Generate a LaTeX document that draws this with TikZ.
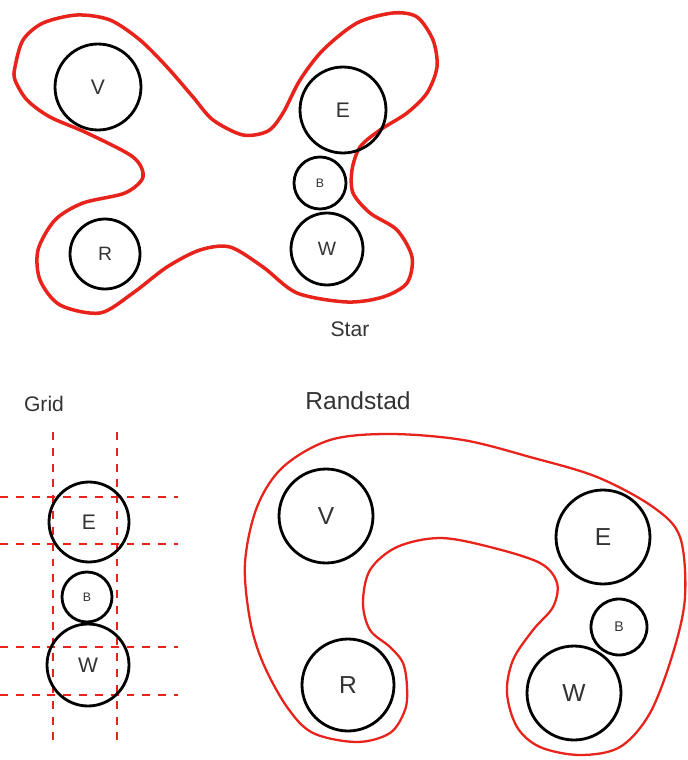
\documentclass[tikz,border=0pt]{standalone}
\usepackage{fontspec}
\setmainfont{Liberation Sans}
\usepackage{xcolor}
\usepackage{tikz}
\definecolor{outline}{HTML}{E8231B}
\definecolor{txt}{HTML}{333333}
\tikzstyle{town} = [circle, draw, line width=1.6pt, inner sep=0pt, text=txt]
\tikzstyle{zone} = [outline, line width=2pt]
\tikzstyle{gridline} = [outline, line width=1.2pt, dash pattern=on 4.5pt off 4.5pt]
\tikzstyle{caption} = [text=txt, font=\fontsize{12}{14}\selectfont]

\begin{document}
\begin{tikzpicture}[x=0.02cm, y=-0.02cm]
\useasboundingbox (0,0) rectangle (687,760);
% star
\draw [zone] plot [smooth cycle, tension=0.5] coordinates {
    (15,67) (23,40) (43,23) (77,15) (110,20) (140,40) (167,67)
    (193,97) (213,120) (243,135) (268,131) (283,113) (300,80)
    (323,50) (357,23) (393,13) (417,17) (433,40) (437,67) (427,93)
    (407,113) (380,130) (360,147) (352,170) (353,193) (370,213)
    (397,230) (412,257) (407,283) (383,297) (347,302) (297,293)
    (263,267) (230,247) (200,250) (167,267) (133,293) (100,313)
    (60,305) (40,280) (38,250) (55,220) (83,203) (125,193)
    (143,177) (133,157) (87,133) (50,117) (27,100) (15,80)};
\node [town, minimum size=1.72cm, font=\fontsize{12}{14}\selectfont] (sv) at (98,87) {V};
\node [town, minimum size=1.72cm, font=\fontsize{12}{14}\selectfont] (se) at (343,110) {E};
\node [town, minimum size=1.04cm, font=\fontsize{7}{8}\selectfont] (sb) at (320,183) {B};
\node [town, minimum size=1.44cm, font=\fontsize{11}{13}\selectfont] (sw) at (327,249) {W};
\node [town, minimum size=1.40cm, font=\fontsize{11}{13}\selectfont] (sr) at (105,254) {R};
\node [caption] (star) at (350,329) {Star};
% grid
\node [caption] (grid) at (44,404) {Grid};
\foreach \x in {53, 117}
    \draw [gridline] (\x,432) -- (\x,748);
\foreach \y in {497, 544, 647, 695}
    \draw [gridline] (0,\y) -- (178,\y);
\node [town, minimum size=1.60cm, font=\fontsize{12}{14}\selectfont] (ge) at (89,522) {E};
\node [town, minimum size=1.00cm, font=\fontsize{7}{8}\selectfont] (gb) at (87,597) {B};
\node [town, minimum size=1.64cm, font=\fontsize{12}{14}\selectfont] (gw) at (88,665) {W};
% randstad
\node [caption, font=\fontsize{14}{16}\selectfont] (rand) at (358,401) {Randstad};
\draw [zone, line width=1.3pt] plot [smooth cycle, tension=0.55] coordinates {
    (390,434) (330,440) (283,467) (257,507) (245,563) (250,620)
    (263,663) (287,707) (313,733) (357,742) (390,733) (405,710)
    (407,687) (403,663) (390,647) (370,630) (363,603) (370,570)
    (397,547) (440,538) (490,547) (540,563) (557,583) (553,607)
    (533,630) (513,660) (507,693) (517,727) (540,747) (580,755)
    (620,747) (650,713) (673,653) (685,597) (680,537) (653,507)
    (597,477) (530,457) (463,440)};
\node [town, minimum size=1.88cm, font=\fontsize{14}{16}\selectfont] (rv) at (326,516) {V};
\node [town, minimum size=1.84cm, font=\fontsize{14}{16}\selectfont] (rr) at (348,685) {R};
\node [town, minimum size=1.88cm, font=\fontsize{14}{16}\selectfont] (re) at (603,537) {E};
\node [town, minimum size=1.12cm, font=\fontsize{8}{9}\selectfont] (rb) at (619,627) {B};
\node [town, minimum size=1.88cm, font=\fontsize{14}{16}\selectfont] (rw) at (574,693) {W};
\end{tikzpicture}
\end{document}
